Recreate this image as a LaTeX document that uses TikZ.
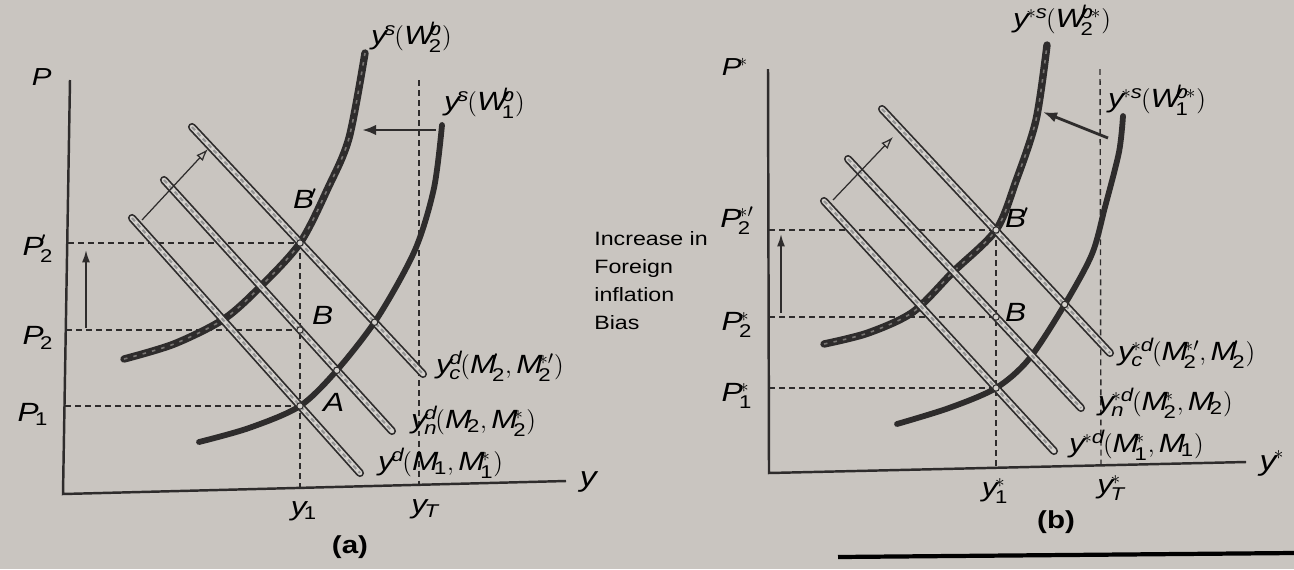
\documentclass[tikz,border=0pt]{standalone}
\usepackage{amsmath}
\usepackage{fontspec}
\setmainfont{Liberation Sans}[FakeStretch=1.2]
\usetikzlibrary{arrows.meta,intersections}

\definecolor{paper}{RGB}{201,197,192}
\definecolor{ink}{RGB}{46,44,44}
\definecolor{pale}{RGB}{212,209,205}

\newcommand{\tx}[1]{\text{#1}}

\begin{document}
\begin{tikzpicture}[x=0.02cm,y=-0.02cm,
  axis/.style={ink,line width=1.4pt},
  guide/.style={ink,line width=0.8pt,dash pattern=on 3.4pt off 2.3pt},
  supply/.style={ink,line width=3.3pt,line cap=round},
  beaded/.style={ink,line width=4.2pt,line cap=round,
    postaction={draw=ink!55!pale,line width=0.9pt,line cap=butt,dash pattern=on 2pt off 3.5pt}},
  demand/.style={ink,line width=4.6pt,line cap=round,
    postaction={draw=pale,line width=2.6pt},
    postaction={draw=ink!50,line width=1.2pt,line cap=butt,dash pattern=on 2.5pt off 2pt}},
  shove/.style={ink,line width=1.6pt,-{Latex[length=8pt,width=6pt]}},
  lift/.style={ink,line width=1pt,-{Latex[length=7pt,width=4.5pt]}},
  push/.style={ink,line width=0.7pt,-{Latex[open,length=7pt,width=5pt]}},
  lab/.style={font=\fontsize{15}{17}\selectfont,inner sep=1pt},
  tick/.style={font=\fontsize{15}{17}\selectfont,inner sep=1pt},
  hole/.style={draw=ink,fill=pale,line width=0.6pt}
]
\fill[paper] (0,0) rectangle (1294,569);
\useasboundingbox (0,0) rectangle (1294,569);
\draw[black,line width=2.4pt] (838,557) -- (1294,553);

% ---------- panel (a)
\draw[axis] (70,80) -- (63,494) -- (566,481);
\node[tick,font=\fontsize{14}{16}\selectfont\bfseries] at (40,77) {$\mathit{P}$};
\node[tick,font=\fontsize{16}{17}\selectfont\bfseries] at (587,482) {$\mathit{y}$};

\coordinate (A) at (300,406);
\coordinate (B) at (300,330);
\coordinate (B') at (300,243);

\draw[guide] (65,406) -- (A);
\draw[guide] (66,330) -- (B);
\draw[guide] (68,243) -- (B');
\draw[guide] (B') -- (300,487);
\draw[guide] (419,80) -- (419,484);

\node[tick] at (33,414) {$\mathit{P_{\tx{1}}}$};
\node[tick] at (38,338) {$\mathit{P_{\tx{2}}}$};
\node[tick] at (38,249) {$\mathit{P'_{\tx{2}}}$};
\node[tick] at (304,511) {$\mathit{y_{\tx{1}}}$};
\node[tick] at (424,509) {$\mathit{y_{T}}$};

\draw[lift] (86,328) -- (86,250);

\draw[beaded] plot[smooth] coordinates {(124,359) (174,344) (224,319) (261,286) (300,243) (328,188) (349,138) (365,53)};
\draw[supply,name path=wa] plot[smooth] coordinates {(199,442) (249,428) (300,406) (338,369) (378,317) (415,250) (434,188) (442,125)};

\draw[demand] (132,218) -- (360,473);
\draw[demand,name path=dna] (164,180) -- (392,431);
\draw[demand,name path=dca] (192,127) -- (423,374);

\path[name intersections={of=wa and dna,by=xa}];
\path[name intersections={of=wa and dca,by=xb}];
\foreach \p in {A,B,B',xa,xb} \draw[hole] (\p) circle[radius=3.2];

\draw[shove] (436,130) -- (362,130);
\draw[push] (142,220) -- (208,149);

\node[lab] at (305,199) {$\mathit{B'}$};
\node[lab] at (321,315) {$\mathit{B}$};
\node[lab] at (332,402) {$\mathit{A}$};

\node[lab,anchor=west] at (369,37) {$\mathit{y^{s}(W^{b}_{\tx{2}})}$};
\node[lab,anchor=west] at (442,103) {$\mathit{y^{s}(W^{b}_{\tx{1}})}$};
\node[lab,anchor=west] at (434,366) {$\mathit{y^{d}_{c}(M'_{\tx{2}},M^{*\prime}_{\tx{2}})}$};
\node[lab,anchor=west] at (409,421) {$\mathit{y^{d}_{n}(M_{\tx{2}},M^{*}_{\tx{2}})}$};
\node[lab,anchor=west] at (376,463) {$\mathit{y^{d}(M_{\tx{1}},M^{*}_{\tx{1}})}$};

\node[font=\fontsize{14}{16}\selectfont\bfseries] at (350,547) {(a)};

% ---------- middle text
\node[anchor=north west,inner sep=0pt,align=left,font=\fontsize{11}{16}\selectfont] at (594,231)
  {Increase in\\Foreign\\inflation\\Bias};

% ---------- panel (b)
\draw[axis] (768,69) -- (769,473) -- (1246,462);
\node[tick,font=\fontsize{14}{16}\selectfont\bfseries] at (735,67) {$\mathit{P^{*}}$};
\node[tick,font=\fontsize{16}{17}\selectfont\bfseries] at (1272,463) {$\mathit{y^{*}}$};

\coordinate (C) at (996,388);
\coordinate (D) at (996,317);
\coordinate (D') at (996,230);

\draw[guide] (769,388) -- (C);
\draw[guide] (769,317) -- (D);
\draw[guide] (769,230) -- (D');
\draw[guide] (D') -- (996,470);
\draw[guide] (1100,69) -- (1101,465);

\node[tick] at (737,396) {$\mathit{P^{*}_{\tx{1}}}$};
\node[tick] at (737,325) {$\mathit{P^{*}_{\tx{2}}}$};
\node[tick] at (737,221) {$\mathit{P^{*\prime}_{\tx{2}}}$};
\node[tick] at (995,491) {$\mathit{y^{*}_{\tx{1}}}$};
\node[tick] at (1110,488) {$\mathit{y^{*}_{T}}$};

\draw[lift] (781,313) -- (781,234);

\draw[beaded] plot[smooth] coordinates {(824,344) (868,333) (913,312) (953,272) (996,230) (1016,181) (1036,120) (1047,45)};
\draw[supply,name path=wb] plot[smooth] coordinates {(897,424) (949,408) (996,388) (1029,359) (1065,304) (1092,254) (1105,207) (1119,152) (1123,116)};

\draw[demand] (824,201) -- (1054,451);
\draw[demand] (848,159) -- (1081,408);
\draw[demand,name path=dcb] (882,109) -- (1110,353);

\path[name intersections={of=wb and dcb,by=xc}];
\foreach \p in {C,D,D',xc} \draw[hole] (\p) circle[radius=3.2];

\draw[shove] (1108,138) -- (1043,112);
\draw[push] (833,200) -- (893,137);

\node[lab] at (1017,218) {$\mathit{B'}$};
\node[lab] at (1014,312) {$\mathit{B}$};

\node[lab,anchor=west] at (1011,20) {$\mathit{y^{*s}(W^{b*}_{\tx{2}})}$};
\node[lab,anchor=west] at (1106,100) {$\mathit{y^{*s}(W^{b*}_{\tx{1}})}$};
\node[lab,anchor=west] at (1116,353) {$\mathit{y^{*d}_{c}(M^{*\prime}_{\tx{2}},M'_{\tx{2}})}$};
\node[lab,anchor=west] at (1096,403) {$\mathit{y^{*d}_{n}(M^{*}_{\tx{2}},M_{\tx{2}})}$};
\node[lab,anchor=west] at (1067,445) {$\mathit{y^{*d}(M^{*}_{\tx{1}},M_{\tx{1}})}$};

\node[font=\fontsize{14}{16}\selectfont\bfseries] at (1056,522) {(b)};
\end{tikzpicture}
\end{document}
